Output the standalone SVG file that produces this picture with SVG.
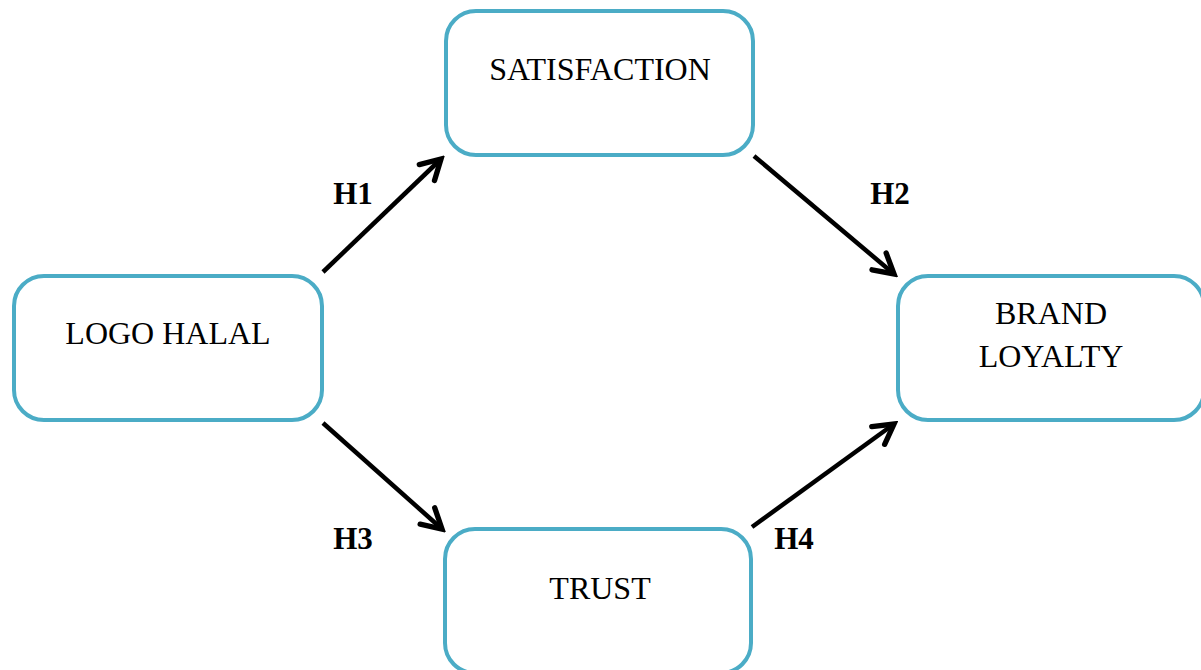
<svg xmlns="http://www.w3.org/2000/svg" width="1201" height="670" viewBox="0 0 1201 670">
<style>
.box{fill:#fff;stroke:#4BACC6;stroke-width:4}
.t{font-family:"Liberation Serif","Times New Roman",serif;font-size:32px;fill:#000;text-anchor:middle}
.h{font-family:"Liberation Serif","Times New Roman",serif;font-size:31px;font-weight:bold;fill:#000;text-anchor:middle}
.c{stroke:#000;stroke-width:4.5;fill:none}
</style>
<defs>
<marker id="ah" viewBox="0 0 12 12" refX="10" refY="6" markerWidth="6.5" markerHeight="6.5" markerUnits="strokeWidth" orient="auto">
<path d="M2,1.5 L10,6 L2,10.5" fill="none" stroke="#000" stroke-width="2.2" stroke-linecap="round" stroke-linejoin="miter"/>
</marker>
</defs>
<rect width="1201" height="670" fill="#fff"/>
<g id="connectors">
<line class="c" x1="323" y1="272" x2="441" y2="159" marker-end="url(#ah)"/>
<line class="c" x1="754" y1="156" x2="894" y2="274" marker-end="url(#ah)"/>
<line class="c" x1="323" y1="423" x2="442" y2="529" marker-end="url(#ah)"/>
<line class="c" x1="752" y1="527" x2="894" y2="424" marker-end="url(#ah)"/>
<text class="h" x="353" y="204">H1</text>
<text class="h" x="890" y="204">H2</text>
<text class="h" x="353" y="549">H3</text>
<text class="h" x="794" y="549">H4</text>
</g>
<g id="logo-halal">
<rect class="box" x="14" y="276" width="308" height="144" rx="30"/>
<text class="t" x="168" y="344">LOGO HALAL</text>
</g>
<g id="satisfaction">
<rect class="box" x="446" y="11" width="307" height="144" rx="30"/>
<text class="t" x="600" y="80">SATISFACTION</text>
</g>
<g id="brand-loyalty">
<rect class="box" x="898" y="276" width="306" height="144" rx="30"/>
<text class="t" x="1051" y="324">BRAND</text>
<text class="t" x="1051" y="367">LOYALTY</text>
</g>
<g id="trust">
<rect class="box" x="445" y="529" width="306" height="144" rx="30"/>
<text class="t" x="600" y="599">TRUST</text>
</g>
</svg>
